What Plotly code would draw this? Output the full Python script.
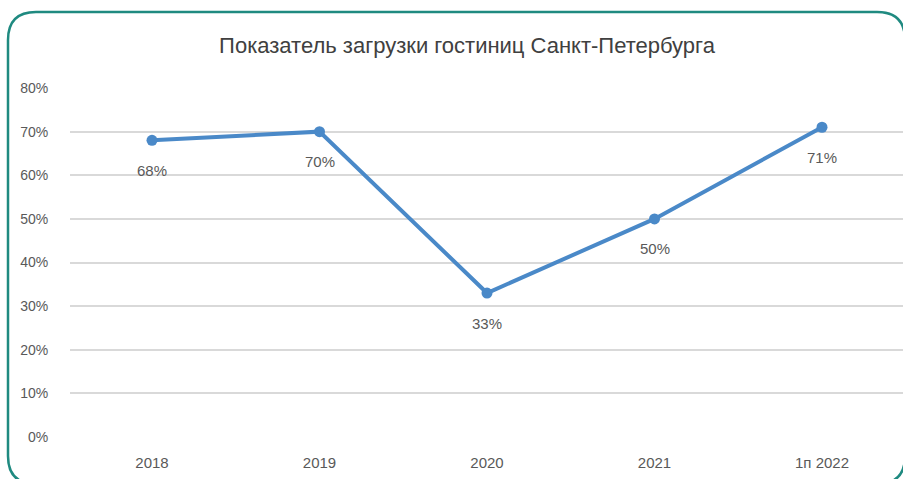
import plotly.graph_objects as go

# Hotel occupancy in Saint Petersburg
categories = ["2018", "2019", "2020", "2021", "1п 2022"]
occupancy = [68, 70, 33, 50, 71]
y_ticks = [0, 10, 20, 30, 40, 50, 60, 70, 80]
y_tick_labels = [f"{v}%" for v in y_ticks]

W, H = 903, 479
ML, MR, MT, MB = 70, 0, 88, 42
LINE = "#4a89c8"
FONT = "Liberation Sans Narrow, Arial Narrow, sans-serif"

x_pos = list(range(len(categories)))

fig = go.Figure()
fig.add_trace(go.Scatter(
    x=x_pos, y=occupancy, mode="lines+markers",
    line=dict(color=LINE, width=4),
    marker=dict(color=LINE, size=11),
    hoverinfo="skip", showlegend=False, cliponaxis=False,
))

for xi, v in zip(x_pos, occupancy):
    fig.add_annotation(x=xi, y=v, text=f"{v}%", showarrow=False,
                       yanchor="middle", yshift=-30,
                       font=dict(family=FONT, size=15, color="#595959"))

# rounded teal frame around the chart, built in pixel space
pw, ph = W - ML - MR, H - MT - MB
def px(x):
    return (x - ML) / pw
def py(y):
    return (H - MB - y) / ph

x0, y0, x1, y1, r = 8, 12, 905, 484, 28
path = (f"M {px(x0)},{py(y0 + r)} "
        f"Q {px(x0)},{py(y0)} {px(x0 + r)},{py(y0)} "
        f"L {px(x1 - r)},{py(y0)} "
        f"Q {px(x1)},{py(y0)} {px(x1)},{py(y0 + r)} "
        f"L {px(x1)},{py(y1 - r)} "
        f"Q {px(x1)},{py(y1)} {px(x1 - r)},{py(y1)} "
        f"L {px(x0 + r)},{py(y1)} "
        f"Q {px(x0)},{py(y1)} {px(x0)},{py(y1 - r)} Z")
fig.add_shape(type="path", xref="paper", yref="paper", path=path,
              line=dict(color="#1f8a80", width=2.5), layer="above")

fig.update_layout(
    width=W, height=H,
    margin=dict(l=ML, r=MR, t=MT, b=MB),
    paper_bgcolor="white", plot_bgcolor="white",
    title=dict(text="Показатель загрузки гостиниц Санкт-Петербурга",
               x=467 / W, xanchor="center", y=1 - 45 / H, yanchor="middle",
               font=dict(family=FONT, size=22, color="#404040")),
    xaxis=dict(range=[(ML - 152) / 167.5, (W - MR - 152) / 167.5],
               tickvals=x_pos, ticktext=categories,
               showgrid=False, zeroline=False, showline=False,
               ticks="outside", ticklen=12, tickcolor="rgba(0,0,0,0)",
               tickfont=dict(family=FONT, size=15, color="#595959")),
    yaxis=dict(range=[0, 80], tickvals=y_ticks, ticktext=y_tick_labels,
               showgrid=True, gridcolor="#d9d9d9", gridwidth=1.5,
               zeroline=False, showline=False,
               ticks="outside", ticklen=18, tickcolor="rgba(0,0,0,0)",
               tickfont=dict(family=FONT, size=14, color="#595959")),
)

fig.write_html("out.html")
